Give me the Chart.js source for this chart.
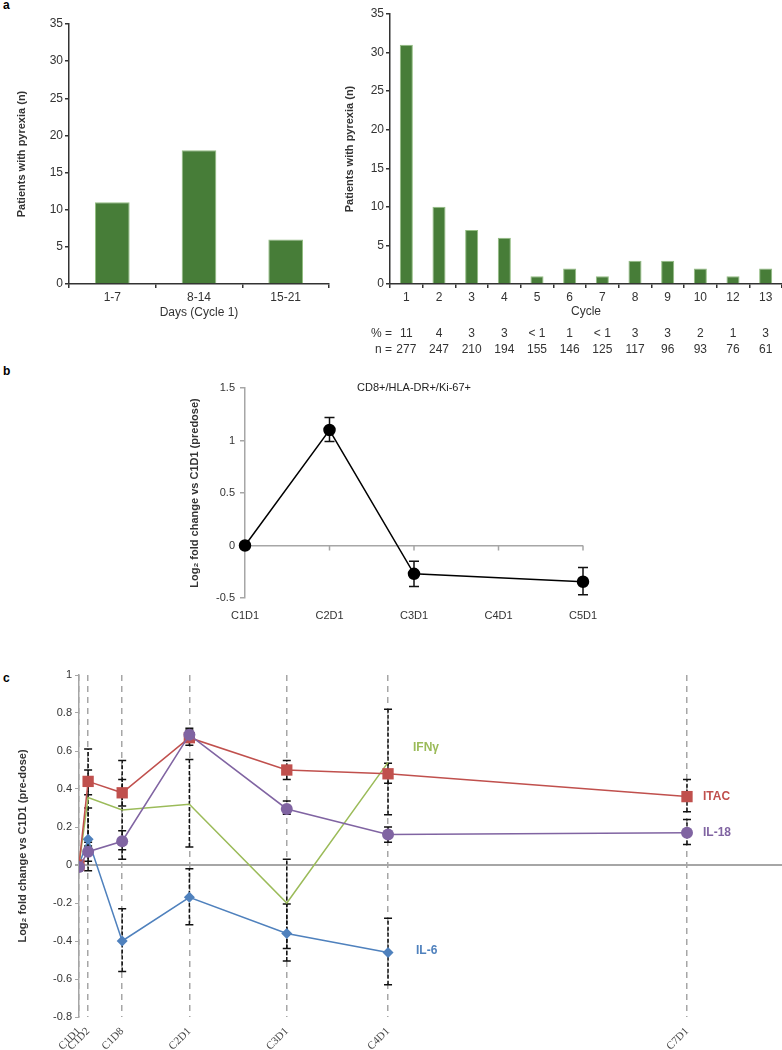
<!DOCTYPE html>
<html>
<head>
<meta charset="utf-8">
<script src="https://cdn.jsdelivr.net/npm/chart.js@4.4.1/dist/chart.umd.min.js"></script>
<style>
  body { margin: 0; background: #fff; width: 782px; height: 1050px; position: relative; overflow: hidden;
         font-family: "Liberation Sans", Arial, sans-serif; }
  canvas { position: absolute; }
  .panel { position: absolute; font-weight: bold; font-size: 12px; color: #000; }
</style>
</head>
<body>
<div class="panel" style="left:3px;top:-2px">a</div>
<div class="panel" style="left:3px;top:364px">b</div>
<div class="panel" style="left:3px;top:671px">c</div>
<canvas id="daysChart" width="335" height="330" style="left:0;top:0"></canvas>
<canvas id="cycleChart" width="447" height="365" style="left:335px;top:0"></canvas>
<canvas id="cd8Chart" width="500" height="270" style="left:140px;top:365px"></canvas>
<canvas id="cytoChart" width="782" height="385" style="left:0;top:665px"></canvas>

<script>
// a (left): pyrexia by day of cycle 1
var dayBins = ['1-7', '8-14', '15-21'];
var dayPatients = [11, 18, 6];

// a (right): pyrexia by cycle
var cycles = ['1', '2', '3', '4', '5', '6', '7', '8', '9', '10', '12', '13'];
var cyclePatients = [31, 10, 7, 6, 1, 2, 1, 3, 3, 2, 1, 2];
var cyclePct = ['11', '4', '3', '3', '< 1', '1', '< 1', '3', '3', '2', '1', '3'];
var cycleN = ['277', '247', '210', '194', '155', '146', '125', '117', '96', '93', '76', '61'];

// b: CD8+/HLA-DR+/Ki-67+
var cdVisits = ['C1D1', 'C2D1', 'C3D1', 'C4D1', 'C5D1'];
var cdChange = [0, 1.10, -0.27, null, -0.345];
var cdLow = [null, 0.99, -0.39, null, -0.47];
var cdHigh = [null, 1.22, -0.15, null, -0.21];

// c: cytokines, x = position of the visit on the time axis
var visits = ['C1D1', 'C1D2', 'C1D8', 'C2D1', 'C3D1', 'C4D1', 'C7D1'];
var visitPos = [0, 1.9, 9, 23, 43.3, 64.4, 126.7];
var itac = [0, 0.44, 0.38, 0.67, 0.50, 0.48, 0.36];
var itacLow = [null, 0.37, 0.31, 0.63, 0.45, 0.43, 0.28];
var itacHigh = [null, 0.50, 0.45, 0.71, 0.55, 0.535, 0.45];
var il18 = [-0.01, 0.07, 0.125, 0.685, 0.295, 0.16, 0.17];
var il18Low = [null, 0.02, 0.08, 0.65, 0.267, 0.12, 0.108];
var il18High = [null, 0.12, 0.18, 0.72, 0.337, 0.20, 0.239];
var ifng = [0, 0.355, 0.29, 0.32, -0.2, 0.54, null];
var ifngLow = [null, 0.10, 0.03, 0.095, -0.44, 0.265, null];
var ifngHigh = [null, 0.61, 0.55, 0.555, 0.03, 0.82, null];
var il6 = [0, 0.135, -0.40, -0.17, -0.36, -0.46, null];
var il6Low = [null, -0.03, -0.56, -0.315, -0.505, -0.63, null];
var il6High = [null, 0.30, -0.23, -0.02, -0.205, -0.28, null];

var FONT = '"Liberation Sans", Arial, sans-serif';
Chart.defaults.font.family = FONT;
Chart.defaults.font.size = 11;
Chart.defaults.color = '#333';
Chart.defaults.animation = false;
Chart.defaults.responsive = false;
Chart.defaults.plugins.legend.display = false;
Chart.defaults.plugins.tooltip.enabled = false;

var green = '#477d38';
var axisDark = '#333';
var axisGrey = '#a6a6a6';

// "1", "0.5", "-0.2" rather than "1.0"
function plainTick(v) { return String(Math.round(v * 10) / 10); }

// vertical error bars, read from dataset.errLow / errHigh
var errorBars = {
  id: 'errorBars',
  beforeDatasetsDraw: function (chart, args, opts) {
    var ctx = chart.ctx, ys = chart.scales.y;
    chart.data.datasets.forEach(function (ds, di) {
      if (!ds.errLow) return;
      var meta = chart.getDatasetMeta(di);
      meta.data.forEach(function (pt, i) {
        if (ds.errLow[i] == null) return;
        var x = pt.x, y1 = ys.getPixelForValue(ds.errLow[i]), y2 = ys.getPixelForValue(ds.errHigh[i]);
        ctx.save();
        ctx.strokeStyle = '#111';
        ctx.lineWidth = opts.width || 1.5;
        ctx.setLineDash(opts.dash || []);
        ctx.beginPath(); ctx.moveTo(x, y1); ctx.lineTo(x, y2); ctx.stroke();
        ctx.setLineDash([]);
        ctx.beginPath();
        ctx.moveTo(x - opts.cap, y1); ctx.lineTo(x + opts.cap, y1);
        ctx.moveTo(x - opts.cap, y2); ctx.lineTo(x + opts.cap, y2);
        ctx.stroke();
        ctx.restore();
      });
    });
  }
};

// a, left
new Chart(document.getElementById('daysChart'), {
  type: 'bar',
  data: {
    labels: dayBins,
    datasets: [{ data: dayPatients, backgroundColor: green, borderColor: '#93bd82', borderWidth: 1,
                 categoryPercentage: 1, barPercentage: 0.4 }]
  },
  options: {
    layout: { padding: { left: 0, top: 24, right: 6, bottom: 0 } },
    scales: {
      x: {
        afterFit: function (s) { s.height = 46; },
        grid: { drawOnChartArea: false, tickLength: 4, color: axisDark, lineWidth: 1.5 },
        border: { color: axisDark, width: 1.5 },
        ticks: { padding: 2, font: { size: 12 } },
        title: { display: true, text: 'Days (Cycle 1)', font: { size: 12 }, padding: { top: 0, bottom: 10 } }
      },
      y: {
        min: 0, max: 35,
        afterFit: function (s) { s.width = 69; },
        ticks: { stepSize: 5, padding: 2, font: { size: 12 } },
        grid: { drawOnChartArea: false, tickLength: 4, color: axisDark, lineWidth: 1.5 },
        border: { color: axisDark, width: 1.5 },
        title: { display: true, text: 'Patients with pyrexia (n)', font: { size: 11, weight: 'bold' },
                 padding: { top: 15, bottom: 0 } }
      }
    }
  }
});

// a, right: % and n rows under the cycle axis
var cycleRows = {
  id: 'cycleRows',
  afterDraw: function (chart) {
    var ctx = chart.ctx, xs = chart.scales.x, a = chart.chartArea;
    ctx.save();
    ctx.font = '12px ' + FONT;
    ctx.fillStyle = '#333';
    ctx.textBaseline = 'middle';
    ctx.textAlign = 'right';
    ctx.fillText('% =', a.left + 2, 334);
    ctx.fillText('n =', a.left + 2, 350);
    ctx.textAlign = 'center';
    cycles.forEach(function (c, i) {
      var x = xs.getPixelForValue(i);
      ctx.fillText(cyclePct[i], x, 334);
      ctx.fillText(cycleN[i], x, 350);
    });
    ctx.restore();
  }
};

new Chart(document.getElementById('cycleChart'), {
  type: 'bar',
  data: {
    labels: cycles,
    datasets: [{ data: cyclePatients, backgroundColor: green, borderColor: '#93bd82', borderWidth: 1,
                 categoryPercentage: 1, barPercentage: 0.4 }]
  },
  options: {
    layout: { padding: { left: 0, top: 14, right: 0, bottom: 0 } },
    scales: {
      x: {
        afterFit: function (s) { s.height = 81; },
        grid: { drawOnChartArea: false, tickLength: 4, color: axisDark, lineWidth: 1.5 },
        border: { color: axisDark, width: 1.5 },
        ticks: { padding: 2, font: { size: 12 } },
        title: { display: true, text: 'Cycle', font: { size: 12 }, padding: { top: 0, bottom: 46 } }
      },
      y: {
        min: 0, max: 35,
        afterFit: function (s) { s.width = 55; },
        ticks: { stepSize: 5, padding: 2, font: { size: 12 } },
        grid: { drawOnChartArea: false, tickLength: 4, color: axisDark, lineWidth: 1.5 },
        border: { color: axisDark, width: 1.5 },
        title: { display: true, text: 'Patients with pyrexia (n)', font: { size: 11, weight: 'bold' },
                 padding: { top: 8, bottom: 0 } }
      }
    }
  },
  plugins: [cycleRows]
});

// b
var cd8Extras = {
  id: 'cd8Extras',
  afterDraw: function (chart) {
    var ctx = chart.ctx, xs = chart.scales.x, ys = chart.scales.y, a = chart.chartArea;
    var y0 = ys.getPixelForValue(0);
    ctx.save();
    ctx.strokeStyle = axisGrey;
    ctx.lineWidth = 1.5;
    ctx.beginPath();
    cdVisits.forEach(function (v, i) {
      if (i === 0) return;
      var x = xs.getPixelForValue(i);
      ctx.moveTo(x, y0); ctx.lineTo(x, y0 + 5);
    });
    ctx.stroke();
    ctx.font = '11px ' + FONT;
    ctx.fillStyle = '#222';
    ctx.textAlign = 'center';
    ctx.textBaseline = 'middle';
    ctx.fillText('CD8+/HLA-DR+/Ki-67+', (a.left + a.right) / 2, a.top);
    ctx.restore();
  }
};

new Chart(document.getElementById('cd8Chart'), {
  type: 'line',
  data: {
    labels: cdVisits,
    datasets: [{ data: cdChange, borderColor: '#000', backgroundColor: '#000', borderWidth: 1.5,
                 pointRadius: 5.5, spanGaps: true, errLow: cdLow, errHigh: cdHigh }]
  },
  options: {
    layout: { padding: { left: 0, top: 23, right: 57, bottom: 0 } },
    plugins: { errorBars: { cap: 5, width: 1.5 } },
    scales: {
      x: {
        afterFit: function (s) { s.height = 37; },
        grid: { display: false },
        border: { display: false },
        ticks: { padding: 3 }
      },
      y: {
        min: -0.5, max: 1.5,
        afterFit: function (s) { s.width = 105; },
        ticks: { stepSize: 0.5, padding: 5, callback: plainTick },
        grid: {
          color: function (c) { return c.tick && c.tick.value === 0 ? axisGrey : 'rgba(0,0,0,0)'; },
          tickColor: axisGrey, tickLength: 5, lineWidth: 1.5
        },
        border: { color: axisGrey, width: 1.5 },
        title: { display: true, text: 'Log\u2082 fold change vs C1D1 (predose)', font: { size: 11, weight: 'bold' },
                 padding: { top: 48, bottom: 0 } }
      }
    }
  },
  plugins: [errorBars, cd8Extras]
});

// c
function series(name, values, low, high, color, style, radius, tag) {
  return {
    label: name,
    data: values.map(function (v, i) { return { x: visitPos[i], y: v }; }),
    borderColor: color, backgroundColor: color, borderWidth: 1.5,
    pointStyle: style, pointRadius: radius, pointBorderWidth: 0,
    errLow: low, errHigh: high, tag: tag
  };
}

var seriesTags = {
  id: 'seriesTags',
  afterDatasetsDraw: function (chart) {
    var ctx = chart.ctx;
    ctx.save();
    ctx.font = 'bold 12px ' + FONT;
    ctx.textAlign = 'left';
    ctx.textBaseline = 'middle';
    chart.data.datasets.forEach(function (ds, di) {
      var pt = chart.getDatasetMeta(di).data[ds.tag.at];
      ctx.fillStyle = ds.borderColor;
      ctx.fillText(ds.label, pt.x + ds.tag.dx, pt.y + ds.tag.dy);
    });
    ctx.restore();
  }
};

new Chart(document.getElementById('cytoChart'), {
  type: 'line',
  data: {
    datasets: [
      series('IL-18', il18, il18Low, il18High, '#8064a2', 'circle', 6, { at: 6, dx: 16, dy: 0 }),
      series('ITAC', itac, itacLow, itacHigh, '#c0504d', 'rect', 8, { at: 6, dx: 16, dy: 0 }),
      series('IFN\u03b3', ifng, ifngLow, ifngHigh, '#9bbb59', 'circle', 0, { at: 5, dx: 25, dy: -15 }),
      series('IL-6', il6, il6Low, il6High, '#4f81bd', 'rectRot', 5.5, { at: 5, dx: 28, dy: -2 })
    ]
  },
  options: {
    layout: { autoPadding: false, padding: { left: 0, top: 10, right: 0, bottom: 0 } },
    plugins: { errorBars: { cap: 4, width: 1.5, dash: [4, 2] } },
    scales: {
      x: {
        type: 'linear', min: 0, max: 146.5,
        afterBuildTicks: function (s) { s.ticks = visitPos.map(function (v) { return { value: v }; }); },
        afterFit: function (s) { s.height = 33; s.paddingLeft = 0; s.paddingRight = 0; },
        ticks: {
          autoSkip: false, minRotation: 45, maxRotation: 45, padding: 8, color: '#444',
          font: { family: '"Liberation Serif", "Times New Roman", serif', size: 11 },
          callback: function (v, i) { return visits[i]; }
        },
        grid: { color: axisGrey, lineWidth: 1.5, drawTicks: false },
        border: { display: false, dash: [6, 5] }
      },
      y: {
        min: -0.8, max: 1,
        afterFit: function (s) { s.width = 79; },
        ticks: { stepSize: 0.2, padding: 3, callback: plainTick },
        grid: {
          color: function (c) { return c.tick && c.tick.value === 0 ? axisGrey : 'rgba(0,0,0,0)'; },
          lineWidth: function (c) { return c.tick && c.tick.value === 0 ? 2 : 1; },
          tickColor: axisGrey, tickLength: 4
        },
        border: { color: axisGrey, width: 1.5 },
        title: { display: true, text: 'Log\u2082 fold change vs C1D1 (pre-dose)', font: { size: 11, weight: 'bold' },
                 padding: { top: 16, bottom: 0 } }
      }
    }
  },
  plugins: [errorBars, seriesTags]
});
</script>
</body>
</html>
